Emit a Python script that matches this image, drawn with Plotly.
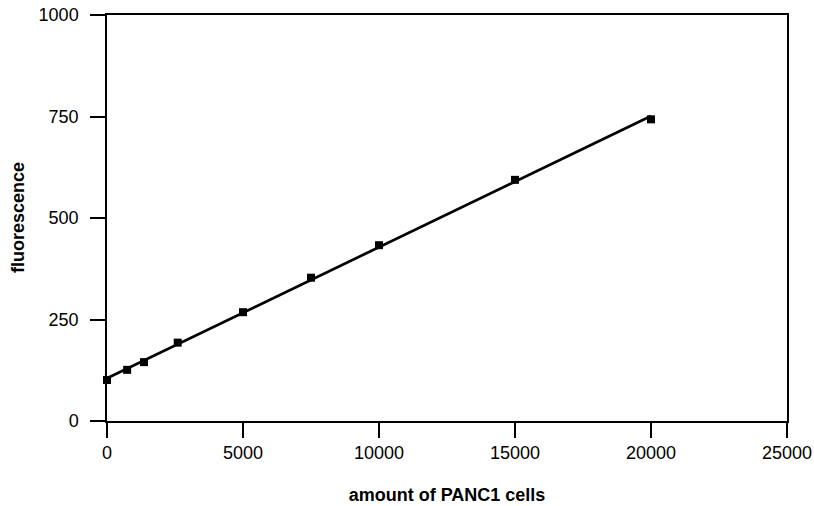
import numpy as np
import plotly.graph_objects as go

# Standard curve: fluorescence vs. number of PANC1 cells
cells = [0, 740, 1360, 2600, 5000, 7500, 10000, 15000, 20000]
fluorescence = [101, 126, 145, 193, 268, 353, 433, 594, 743]

x_ticks = [0, 5000, 10000, 15000, 20000, 25000]
y_ticks = [0, 250, 500, 750, 1000]

# linear regression through the measured points
slope, intercept = np.polyfit(cells, fluorescence, 1)
fit_x = [min(cells), max(cells)]
fit_y = [slope * v + intercept for v in fit_x]

FONT = "Liberation Sans, Arial, Helvetica, sans-serif"

fig = go.Figure()
fig.add_trace(go.Scatter(
    x=fit_x, y=fit_y, mode="lines",
    line=dict(color="black", width=2.7),
    cliponaxis=False, showlegend=False, hoverinfo="skip",
))
fig.add_trace(go.Scatter(
    x=cells, y=fluorescence, mode="markers",
    marker=dict(symbol="square", size=8, color="black"),
    cliponaxis=False, showlegend=False,
))

axis_common = dict(
    showgrid=False, zeroline=False, automargin=False,
    showline=True, linecolor="black", linewidth=1.5, mirror=True,
    ticks="outside", ticklen=15, tickwidth=1.5, tickcolor="black",
    tickfont=dict(family=FONT, size=18, color="black"),
)

fig.update_layout(
    width=814, height=506,
    margin=dict(l=107, r=27, t=15, b=85),
    paper_bgcolor="white", plot_bgcolor="white",
    xaxis=dict(
        range=[0, 25000], tickvals=x_ticks, ticktext=[str(v) for v in x_ticks],
        title=dict(text="<b>amount of PANC1 cells</b>", standoff=26,
                   font=dict(family=FONT, size=18, color="black")),
        **axis_common,
    ),
    yaxis=dict(
        range=[0, 1000], tickvals=y_ticks, ticktext=[str(v) for v in y_ticks],
        ticklabelstandoff=8,
        **axis_common,
    ),
)

# vertical y-axis title placed left of the tick labels
fig.add_annotation(
    text="<b>fluorescence</b>", textangle=-90,
    xref="paper", yref="paper", x=0, y=0.5, xshift=-89,
    xanchor="center", yanchor="middle", showarrow=False,
    font=dict(family=FONT, size=18, color="black"),
)

fig.write_html("out.html")
